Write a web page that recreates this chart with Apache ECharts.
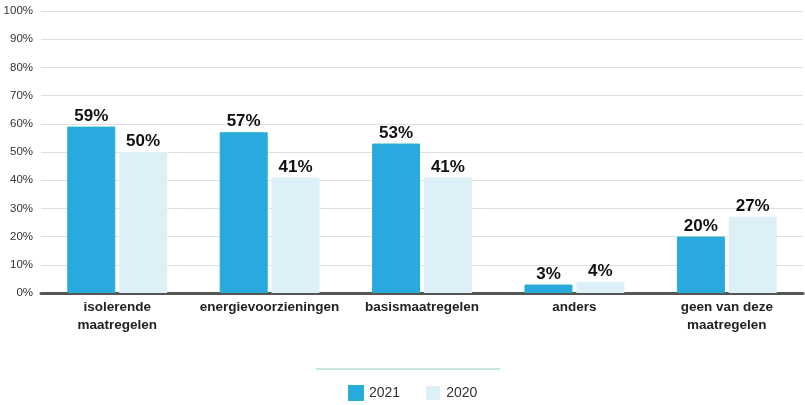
<!DOCTYPE html>
<html>
<head>
<meta charset="utf-8">
<script src="https://cdn.jsdelivr.net/npm/echarts@6/dist/echarts.min.js"></script>
<style>
  html, body { margin: 0; padding: 0; background: #fff; }
  #chart { width: 805px; height: 405px; }
</style>
</head>
<body>
<div id="chart"></div>
<script>
var categories = ['isolerende\nmaatregelen', 'energievoorzieningen', 'basismaatregelen', 'anders', 'geen van deze\nmaatregelen'];
var values2021 = [59, 57, 53, 3, 20];
var values2020 = [50, 41, 41, 4, 27];

var barLabel = {
    show: true,
    position: 'top',
    distance: 2,
    formatter: '{c}%',
    fontFamily: 'Liberation Sans, Arial, sans-serif',
    fontSize: 17,
    fontWeight: 'bold',
    color: '#111'
};

var chart = echarts.init(document.getElementById('chart'));
var option = {
    animation: false,
    textStyle: { fontFamily: 'Liberation Sans, Arial, sans-serif' },
    grid: { left: 41, right: 2, top: 11, bottom: 112, containLabel: false },
    legend: {
        bottom: -1,
        left: 343,
        itemWidth: 14,
        itemHeight: 14,
        itemGap: 26,
        icon: 'rect',
        textStyle: { fontSize: 14, color: '#333', padding: [0, 0, 0, 1] },
        data: ['2021', '2020']
    },
    graphic: [{
        type: 'line',
        shape: { x1: 316, y1: 369, x2: 500, y2: 369 },
        style: { stroke: '#8fd3c8', lineWidth: 1 }
    }],
    xAxis: {
        type: 'category',
        data: categories,
        axisTick: { show: false },
        axisLine: { lineStyle: { color: '#555', width: 3 } },
        axisLabel: {
            margin: 5,
            fontSize: 13.5,
            fontWeight: 'bold',
            color: '#222',
            lineHeight: 18,
            interval: 0
        }
    },
    yAxis: {
        type: 'value',
        min: 0,
        max: 100,
        interval: 10,
        axisLine: { show: false },
        axisTick: { show: false },
        axisLabel: { formatter: '{value}%', fontSize: 11.5, color: '#333', margin: 8 },
        splitLine: { lineStyle: { color: '#e0e0e0', width: 1 } }
    },
    series: [{
        name: '2021',
        type: 'bar',
        data: values2021,
        barWidth: 48,
        barGap: '8%',
        itemStyle: { color: '#29a9e0', borderColor: '#22b3c6', borderWidth: 1 },
        label: barLabel
    }, {
        name: '2020',
        type: 'bar',
        data: values2020,
        barWidth: 48,
        itemStyle: { color: '#ddf0f8' },
        label: barLabel
    }]
};
chart.setOption(option);
</script>
</body>
</html>
